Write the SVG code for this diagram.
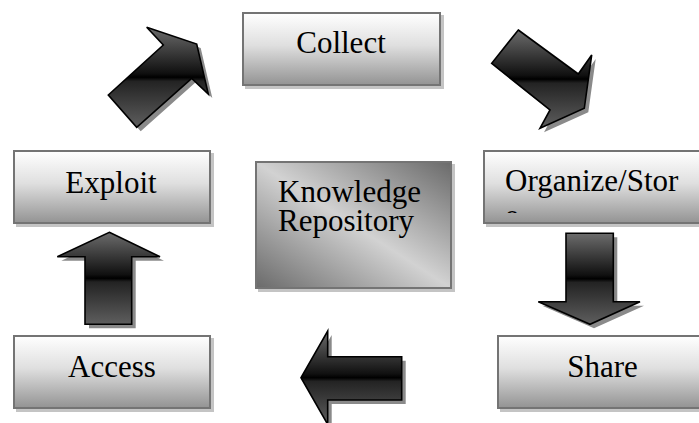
<svg xmlns="http://www.w3.org/2000/svg" xmlns:xlink="http://www.w3.org/1999/xlink" width="699" height="423" viewBox="0 0 699 423">
<style>
.box{fill:url(#boxGrad);stroke:#747474;stroke-width:2}
.kbox{fill:url(#kGrad);stroke:#747474;stroke-width:2}
.bshadow{fill:#c4c4c4}
.lbl{font-size:31px;fill:#000}
.arrow{fill:url(#arrGrad);stroke:#000;stroke-width:1.6;stroke-linejoin:miter}
.ashadow{fill:#8a8a8a;stroke:none}
</style>
<defs>
<linearGradient id="boxGrad" x1="0" y1="0" x2="0" y2="1">
<stop offset="0" stop-color="#ffffff"/>
<stop offset="0.45" stop-color="#dfdfdf"/>
<stop offset="1" stop-color="#939393"/>
</linearGradient>
<linearGradient id="kGrad" x1="1" y1="0" x2="0" y2="1">
<stop offset="0" stop-color="#6a6a6a"/>
<stop offset="0.5" stop-color="#d2d2d2"/>
<stop offset="1" stop-color="#6a6a6a"/>
</linearGradient>
<linearGradient id="arrGrad" x1="0" y1="0" x2="0" y2="1">
<stop offset="0" stop-color="#6c6c6c"/>
<stop offset="0.46" stop-color="#101010"/>
<stop offset="0.5" stop-color="#000000"/>
<stop offset="0.54" stop-color="#232323"/>
<stop offset="1" stop-color="#5e5e5e"/>
</linearGradient>
<clipPath id="orgClip"><rect x="484" y="151" width="215" height="62"/></clipPath>
<polygon id="a1" points="108.3,95 163.3,45 146.7,27.3 196.7,44 208.3,94 191.7,78.3 136.7,127.3"/>
<polygon id="a2" points="518.3,30 578.3,74 591.7,55 584.3,108.3 540,128.3 550,110 491.7,63.3"/>
<polygon id="a3" points="109.3,232.3 160,256.7 131.7,256.7 131.7,324.3 85,324.3 85,256.7 57.3,256.7"/>
<polygon id="a4" points="566,233.3 613.3,233.3 613.3,301.7 640,301.7 590,324.3 538.3,301.7 566,301.7"/>
<polygon id="a5" points="301,377.7 327.7,331 327.7,356.7 401.7,356.7 401.7,400 327.7,400 327.7,424.4"/>
</defs>
<rect width="699" height="423" fill="#ffffff"/>

<g id="connectors">
<use xlink:href="#a1" class="ashadow" transform="translate(4,4)"/>
<use xlink:href="#a1" class="arrow"/>
<use xlink:href="#a2" class="ashadow" transform="translate(4,4)"/>
<use xlink:href="#a2" class="arrow"/>
<use xlink:href="#a3" class="ashadow" transform="translate(4,4)"/>
<use xlink:href="#a3" class="arrow"/>
<use xlink:href="#a4" class="ashadow" transform="translate(4,4)"/>
<use xlink:href="#a4" class="arrow"/>
<use xlink:href="#a5" class="ashadow" transform="translate(4,4)"/>
<use xlink:href="#a5" class="arrow"/>
</g>

<g font-family="Liberation Serif, Tinos, Times New Roman, DejaVu Serif, serif">
<g id="collect">
<rect class="bshadow" x="245" y="15" width="199" height="74"/>
<rect class="box" x="243" y="13" width="197" height="72"/>
<text class="lbl" x="341" y="53" text-anchor="middle">Collect</text>
</g>

<g id="exploit">
<rect class="bshadow" x="16" y="153" width="198" height="74"/>
<rect class="box" x="14" y="151" width="196" height="72"/>
<text class="lbl" x="111" y="193" text-anchor="middle">Exploit</text>
</g>

<g id="organize">
<rect class="bshadow" x="486" y="153" width="230" height="74"/>
<rect class="box" x="484" y="151" width="228" height="72"/>
<g clip-path="url(#orgClip)">
<text class="lbl" x="505" y="191">Organize/Stor</text>
<text class="lbl" x="505" y="226">e</text>
</g>
</g>

<g id="knowledge">
<rect class="bshadow" x="258" y="164" width="197" height="128"/>
<rect class="kbox" x="256" y="162" width="195" height="126"/>
<text class="lbl" x="278" y="202">Knowledge</text>
<text class="lbl" x="278" y="231">Repository</text>
</g>

<g id="share">
<rect class="bshadow" x="500" y="338" width="215" height="74"/>
<rect class="box" x="498" y="336" width="213" height="72"/>
<text class="lbl" x="602.5" y="377" text-anchor="middle">Share</text>
</g>

<g id="access">
<rect class="bshadow" x="16" y="338" width="198" height="74"/>
<rect class="box" x="14" y="336" width="196" height="72"/>
<text class="lbl" x="112" y="377" text-anchor="middle">Access</text>
</g>
</g>
</svg>
